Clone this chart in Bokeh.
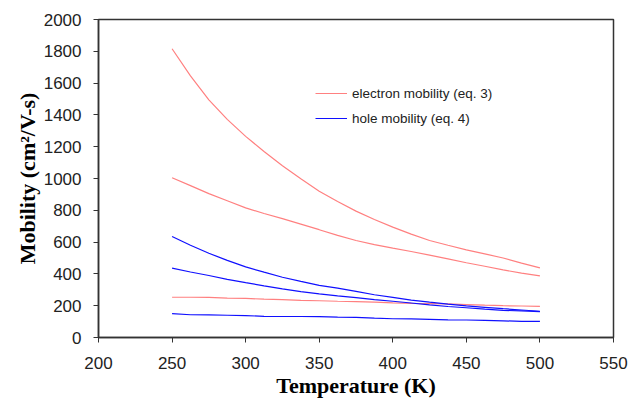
from bokeh.plotting import figure
from bokeh.models import Range1d, FixedTicker, Legend, LegendItem
from bokeh.embed import file_html
from bokeh.resources import INLINE

temperature = [250, 262.5, 275, 287.5, 300, 312.5, 325, 337.5, 350, 362.5, 375,
               387.5, 400, 412.5, 425, 437.5, 450, 462.5, 475, 487.5, 500]

electron_1 = [1816, 1645, 1495, 1372, 1265, 1170, 1080, 998, 920, 855, 795,
              742, 694, 650, 610, 580, 551, 526, 500, 468, 438]
electron_2 = [1005, 955, 905, 860, 815, 780, 748, 713, 678, 642, 610,
              584, 562, 541, 518, 494, 470, 448, 425, 405, 388]
electron_3 = [253, 253, 252, 248, 246, 241, 238, 234, 231, 228, 226,
              222, 218, 215, 213, 211, 207, 203, 200, 198, 196]

hole_1 = [635, 580, 530, 485, 444, 411, 379, 353, 328, 310, 290,
          269, 252, 235, 222, 210, 199, 190, 181, 173, 165]
hole_2 = [436, 412, 390, 366, 345, 325, 306, 289, 274, 262, 251,
          238, 228, 217, 205, 195, 187, 178, 171, 167, 163]
hole_3 = [150, 143, 142, 140, 138, 133, 132, 132, 131, 128, 127,
          122, 118, 117, 114, 111, 110, 108, 105, 101, 101]

x_ticks = [200, 250, 300, 350, 400, 450, 500, 550]
y_ticks = [0, 200, 400, 600, 800, 1000, 1200, 1400, 1600, 1800, 2000]

RED = "#ff8080"
BLUE = "#1010ff"

p = figure(width=628, height=400, output_backend="svg", toolbar_location=None,
           x_range=Range1d(200, 550), y_range=Range1d(0, 2000))
p.min_border_left = 98
p.min_border_right = 15
p.min_border_top = 19
p.min_border_bottom = 63
p.background_fill_color = "white"
p.border_fill_color = "white"
p.outline_line_color = "#333333"
p.outline_line_width = 1.5
p.xgrid.visible = False
p.ygrid.visible = False

r_e = []
for ys in (electron_1, electron_2, electron_3):
    r_e.append(p.line(temperature, ys, line_color=RED, line_width=1.2))
r_h = []
for ys in (hole_1, hole_2, hole_3):
    r_h.append(p.line(temperature, ys, line_color=BLUE, line_width=1.2))

for ax in (p.xaxis[0], p.yaxis[0]):
    ax.axis_line_color = "#333333"
    ax.axis_line_width = 1.5
    ax.major_tick_line_color = "#333333"
    ax.major_tick_in = 0
    ax.major_tick_out = 5
    ax.minor_tick_line_color = None
    ax.major_label_text_font = "Liberation Sans"
    ax.major_label_text_font_size = "17px"
    ax.major_label_text_color = "#222222"
    ax.axis_label_text_font = "Liberation Serif"
    ax.axis_label_text_font_style = "bold"
    ax.axis_label_text_font_size = "22px"
    ax.axis_label_text_color = "black"

p.xaxis[0].ticker = FixedTicker(ticks=x_ticks)
p.yaxis[0].ticker = FixedTicker(ticks=y_ticks)
p.xaxis[0].axis_label = "Temperature (K)"
p.yaxis[0].axis_label = "Mobility (cm²/V-s)"
p.xaxis[0].major_label_standoff = 14
p.yaxis[0].major_label_standoff = 12
p.xaxis[0].axis_label_standoff = 1
p.yaxis[0].axis_label_standoff = 1

legend = Legend(items=[
    LegendItem(label="electron mobility (eq. 3)", renderers=[r_e[0]]),
    LegendItem(label="hole mobility (eq. 4)", renderers=[r_h[0]]),
], location=(217, 209))
legend.padding = 0
legend.spacing = 5
legend.border_line_color = None
legend.background_fill_alpha = 0
legend.glyph_width = 32
legend.glyph_height = 20
legend.label_height = 20
legend.label_standoff = 5
legend.label_text_font = "Liberation Sans"
legend.label_text_font_size = "13.5px"
legend.label_text_color = "#222222"
p.add_layout(legend, "center")

open("out.html", "w").write(file_html(p, INLINE))
